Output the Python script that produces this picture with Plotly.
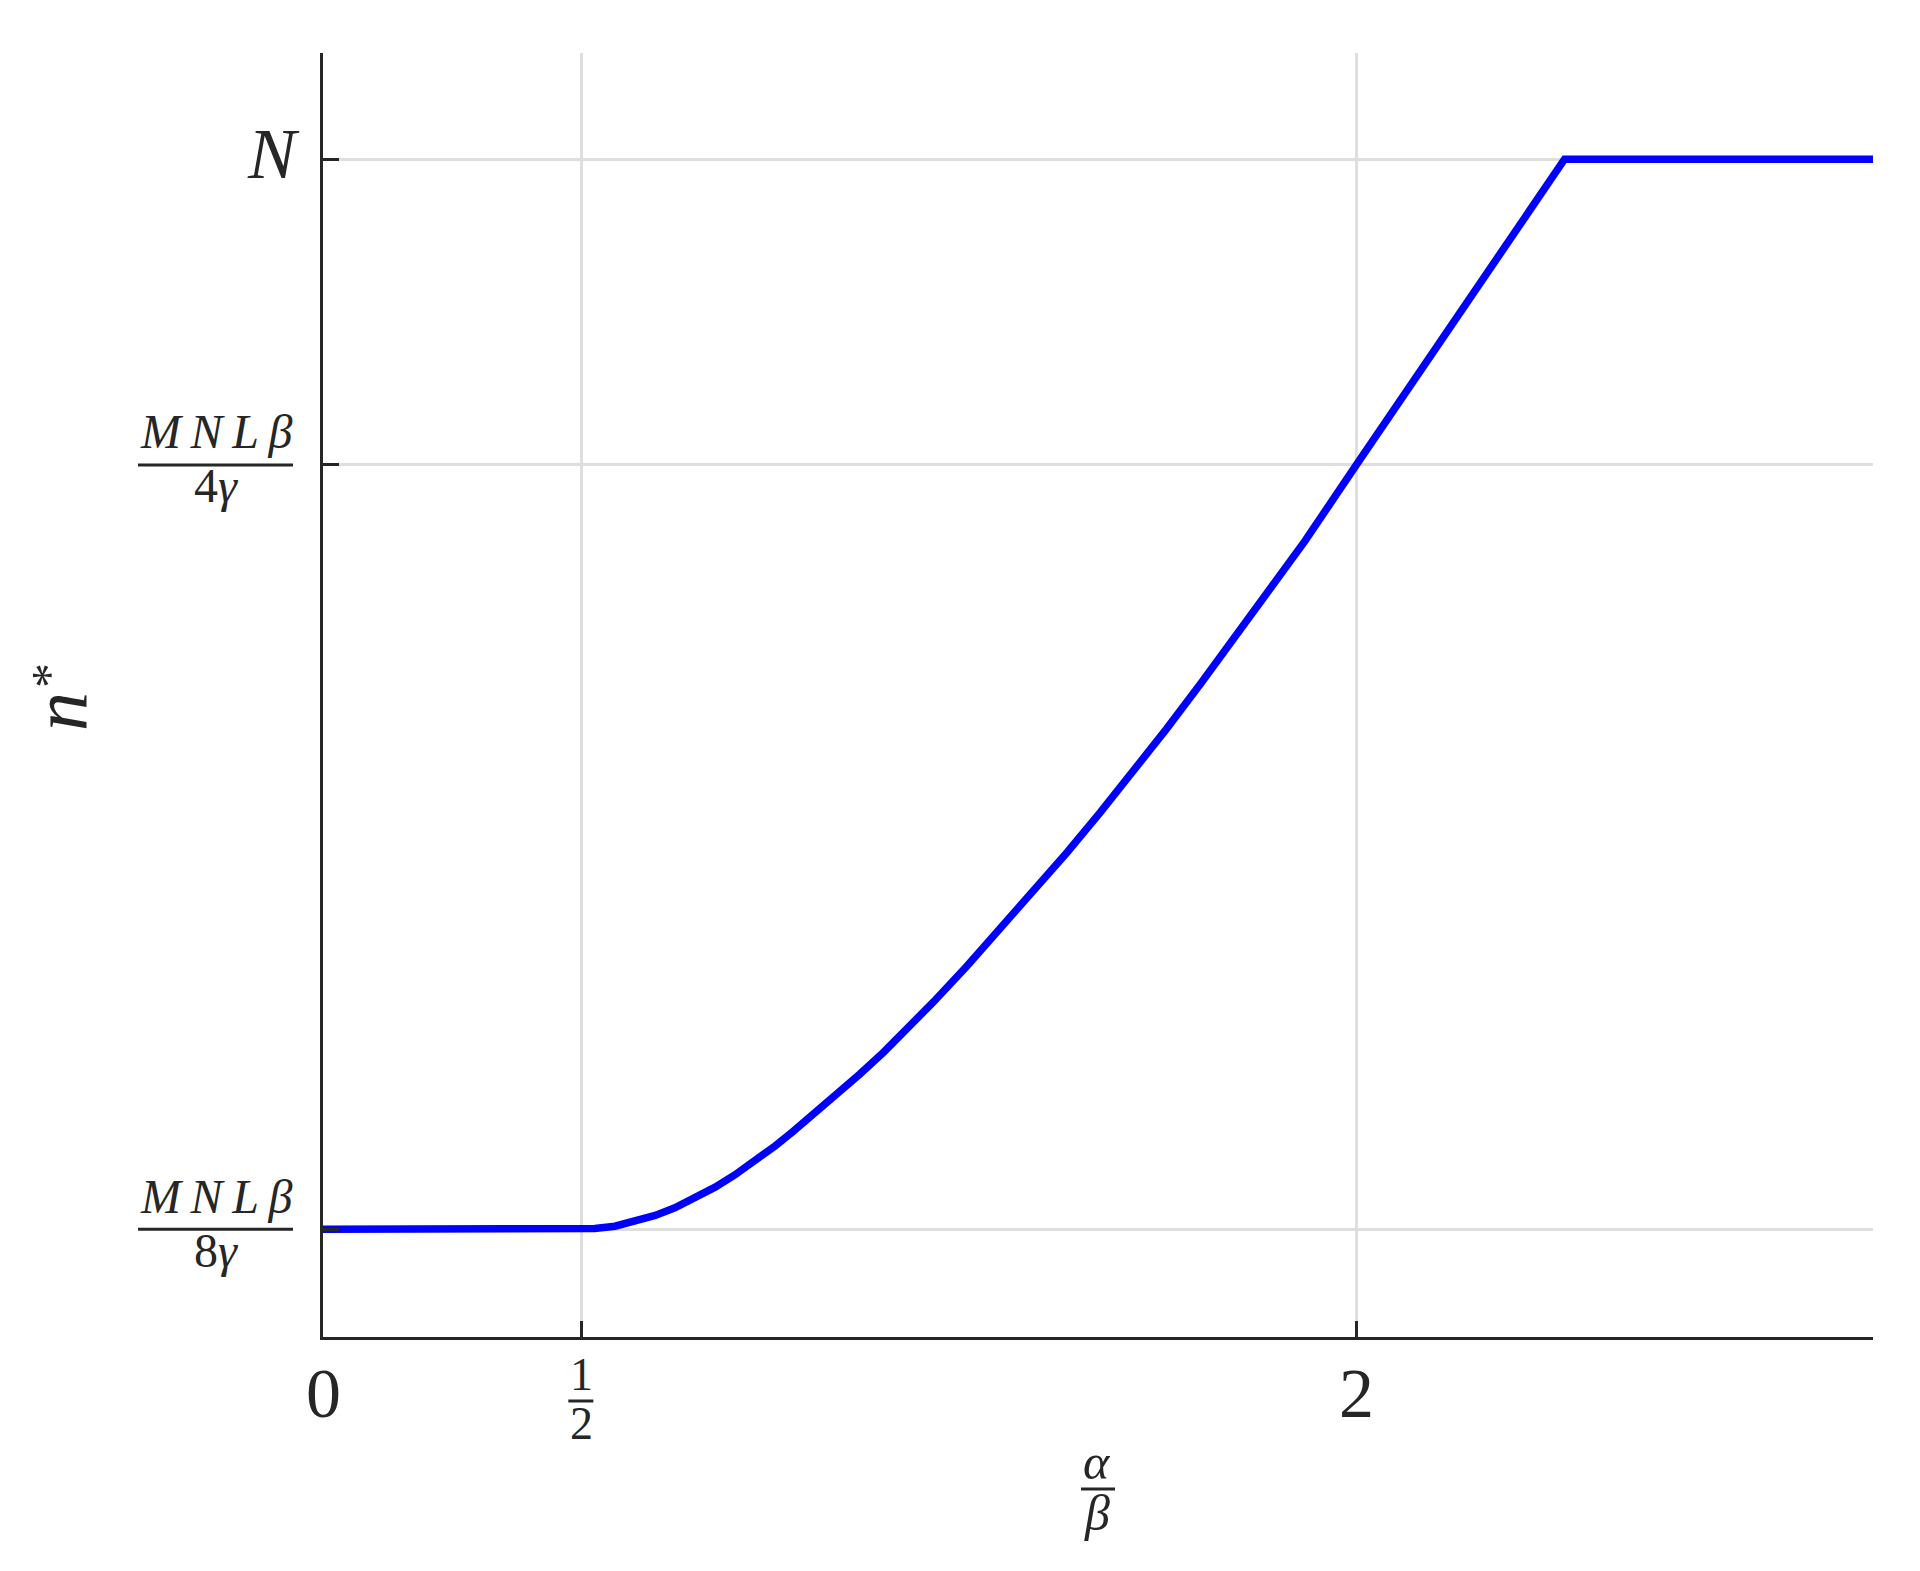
import plotly.graph_objects as go

# ---------------- data ----------------
alpha_over_beta = [0.0, 0.5, 0.526, 0.565, 0.604, 0.643, 0.681, 0.720, 0.759, 0.797,
                   0.836, 0.875, 0.910, 0.975, 1.039, 1.084, 1.121, 1.181, 1.246,
                   1.310, 1.374, 1.440, 1.504, 1.568, 1.633, 1.700, 1.765, 1.830,
                   1.900, 2.0, 2.403, 3.0]
n_star = [1.0, 1.0, 1.001, 1.004, 1.010, 1.018, 1.028, 1.041, 1.055, 1.071,
          1.089, 1.109, 1.128, 1.165, 1.203, 1.231, 1.255, 1.297, 1.344,
          1.392, 1.441, 1.493, 1.545, 1.599, 1.655, 1.715, 1.774, 1.834,
          1.900, 2.0, 2.40, 2.40]

x_tick_vals = [0, 0.5, 2]
x_tick_labels = ["0", ("1", "2"), "2"]
y_tick_vals = [1.0, 2.0, 2.4]
y_tick_labels = [("<i>M\u2009N\u2009L\u2009β</i>", "8<i>γ</i>"),
                 ("<i>M\u2009N\u2009L\u2009β</i>", "4<i>γ</i>"),
                 "<i>N</i>"]
x_label = ("<i>α</i>", "<i>β</i>")
y_label = ("<i>n</i>", "*")

# ---------------- layout geometry ----------------
W, H = 1920, 1571
OFF = 8  # page body margin
# plot area in page pixels: left 323, right 1873, top 53, bottom 1337
L, R, T, B = 323 - OFF, W - (1873 - OFF), 53 - OFF, H - (1337 - OFF)
PW, PH = 1873 - 323, 1337 - 53
TXT = "#262626"
FONT = "Liberation Serif, DejaVu Serif, serif"


def pxx(px):
    return (px - 323) / PW


def pyy(py):
    return (1337 - py) / PH


fig = go.Figure()
fig.add_trace(go.Scatter(x=alpha_over_beta, y=n_star, mode="lines",
                         line=dict(color="#0000ff", width=7.5), showlegend=False,
                         cliponaxis=False, hoverinfo="skip"))

annotations = []
shapes = []


def ann(text, x, y, xref="paper", yref="paper", size=48, xanchor="center", yshift=0, angle=0):
    annotations.append(dict(x=x, y=y, xref=xref, yref=yref, yshift=yshift, text=text,
                            showarrow=False, xanchor=xanchor, yanchor="middle", textangle=angle,
                            font=dict(family=FONT, size=size, color=TXT)))


# y tick labels
for v, lab in zip(y_tick_vals, y_tick_labels):
    if isinstance(lab, tuple):
        num, den = lab
        ann(num, pxx(216), v, yref="y", size=48, yshift=33)
        ann(den, pxx(216), v, yref="y", size=48, yshift=-21)
        shapes.append(dict(type="line", xref="paper", yref="y", x0=pxx(138), x1=pxx(293),
                           y0=v, y1=v, line=dict(color=TXT, width=3)))
    else:
        ann(lab, pxx(302), v, yref="y", size=72, xanchor="right", yshift=5)

# x tick labels
for v, lab in zip(x_tick_vals, x_tick_labels):
    if isinstance(lab, tuple):
        num, den = lab
        ann(num, v, pyy(1374), xref="x", size=46)
        ann(den, v, pyy(1423), xref="x", size=46)
        shapes.append(dict(type="line", xref="x", xsizemode="pixel", xanchor=v, x0=-13, x1=12,
                           yref="paper", y0=pyy(1401), y1=pyy(1401),
                           line=dict(color=TXT, width=3)))
    else:
        ann(lab, v, pyy(1393), xref="x", size=70)

# x axis label (fraction)
ann(x_label[0], pxx(1097), pyy(1462), size=50)
ann(x_label[1], pxx(1097), pyy(1513), size=50)
shapes.append(dict(type="line", xref="paper", yref="paper", x0=pxx(1081), x1=pxx(1115),
                   y0=pyy(1489), y1=pyy(1489), line=dict(color=TXT, width=3)))

# y axis label (rotated)
ann(y_label[0], pxx(60), pyy(712), size=78, angle=-90)
ann(y_label[1], pxx(49), pyy(676), size=50, angle=-90)

axis_common = dict(showline=True, linecolor=TXT, linewidth=3, mirror=False,
                   ticks="inside", ticklen=16, tickwidth=2.5, tickcolor=TXT,
                   showticklabels=False, showgrid=True, gridcolor="#dedede", gridwidth=2.5,
                   zeroline=False, fixedrange=True)

fig.update_layout(
    width=W, height=H,
    margin=dict(l=L, r=R, t=T, b=B, pad=0),
    paper_bgcolor="white", plot_bgcolor="white",
    xaxis=dict(range=[0, 3], tickvals=x_tick_vals, **axis_common),
    yaxis=dict(range=[0.859, 2.539], tickvals=y_tick_vals, **axis_common),
    annotations=annotations, shapes=shapes,
)

fig.write_html("out.html")
